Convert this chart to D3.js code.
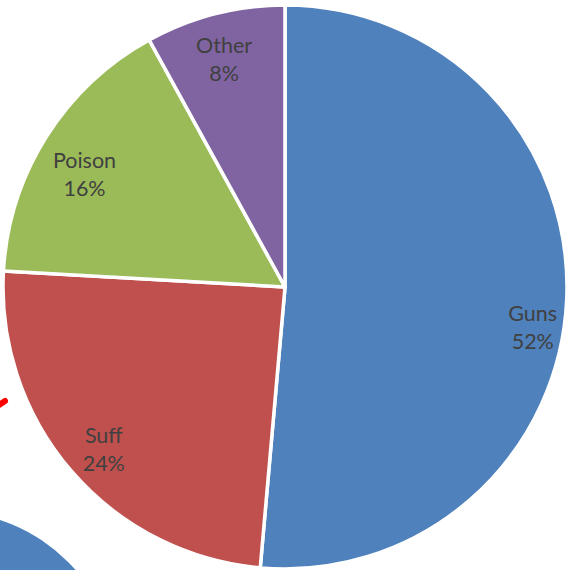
<!DOCTYPE html>
<html>
<head>
<meta charset="utf-8">
<script src="https://cdn.jsdelivr.net/npm/d3@7/dist/d3.min.js"></script>
<style>
  html, body { margin: 0; padding: 0; background: #ffffff; overflow: hidden; }
  svg { display: block; }
</style>
</head>
<body>
<svg id="chart" width="567" height="570"></svg>
<script>
// ---- data ----
const categories = ["Guns", "Suff", "Poison", "Other"];
const values = [51.4, 24.5, 16.1, 8.0];
const percentLabels = ["52%", "24%", "16%", "8%"];
const colors = ["#4F81BD", "#C0504D", "#9BBB59", "#8064A2"];

// ---- layout ----
const W = 567, H = 570;
const cx = 285, cy = 287, R = 282;
const labelR = 237;
const labelNudge = { Guns: [11, 31], Suff: [-2, 8], Poison: [0, 14], Other: [-2, 3] };

const svg = d3.select("#chart");

// partial neighbouring shapes (cropped out of frame)
svg.append("circle")
  .attr("cx", -55).attr("cy", 685).attr("r", 174)
  .attr("fill", "#4F81BD");
svg.append("path")
  .attr("d", "M-1,405 L5,401")
  .attr("stroke", "#FF0000").attr("stroke-width", 6)
  .attr("stroke-linecap", "round").attr("fill", "none");

const data = categories.map((c, i) => ({ cat: c, value: values[i], label: percentLabels[i], color: colors[i] }));

const pie = d3.pie().value(d => d.value).sort(null);
const arcs = pie(data);
const arc = d3.arc().innerRadius(0).outerRadius(R);
const labelArc = d3.arc().innerRadius(labelR).outerRadius(labelR);

const g = svg.append("g").attr("transform", `translate(${cx},${cy})`);

g.selectAll("path.slice")
  .data(arcs)
  .join("path")
  .attr("class", "slice")
  .attr("d", arc)
  .attr("fill", d => d.data.color)
  .attr("stroke", "#ffffff")
  .attr("stroke-width", 3.5)
  .attr("stroke-linejoin", "round");

g.selectAll("text.lbl")
  .data(arcs)
  .join("text")
  .attr("class", "lbl")
  .attr("text-anchor", "middle")
  .attr("font-family", "Lato, 'Open Sans', sans-serif")
  .attr("font-size", 21.5)
  .attr("fill", "#404040")
  .each(function(d) {
    const c = labelArc.centroid(d);
    const n = labelNudge[d.data.cat] || [0, 0];
    const x = c[0] + n[0], y = c[1] + n[1];
    const t = d3.select(this);
    t.append("tspan").attr("x", x).attr("y", y - 7).text(d.data.cat);
    t.append("tspan").attr("x", x).attr("y", y + 21).text(d.data.label);
  });
</script>
</body>
</html>
